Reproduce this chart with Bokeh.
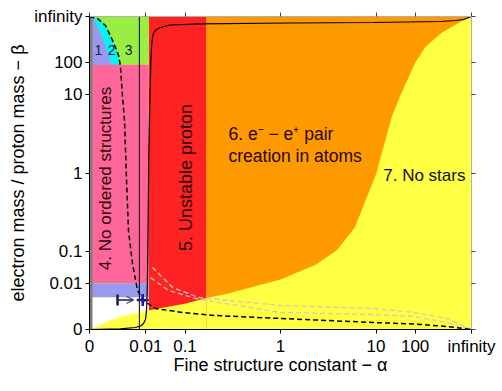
import numpy as np
from bokeh.plotting import figure
from bokeh.models import Range1d, FixedTicker, LinearAxis, Arrow, TeeHead, OpenHead
from bokeh.core.properties import value
from bokeh.embed import file_html
from bokeh.resources import INLINE

INF = np.inf

# ---------------- data (alpha = fine structure constant, beta = m_e/m_p) ----------------
tick_values = [0, 0.01, 0.1, 1, 10, 100, INF]
tick_labels = ["0", "0.01", "0.1", "1", "10", "100", "infinity"]

alpha_gray = 1e-40          # thin grey strip at alpha ~ 0
alpha_red_lo = 0.013        # 5. unstable proton
alpha_red_hi = 0.2
beta_white_top = 0.001
beta_blue_top = 0.01
beta_pink_top = 80
alpha_vline = 0.005
alpha_obs = 1 / 137.036
beta_obs = 1 / 1836.15
arrow_alpha = [5.5e-5, 2.3e-3]

# 7. No stars boundary
nostars_alpha = [0, 1e-4, 1e-3, 0.01, 0.0316, 0.1, 0.2, 0.316, 1, 2, 3.16, 5, 10, 20, 31.6,
                 100, 316, 1e3, 1e4, 1e6, 1e10, INF]
nostars_beta = [0, 1.6e-8, 1.9e-7, 4.4e-6, 2.6e-5, 1.7e-4, 8.7e-4, 1.9e-3, 0.015, 0.049, 0.105,
                0.245, 0.97, 4.3, 9.3, 100, 1.4e3, 1.1e4, 1.1e6, 2.3e9, 2e16, INF]

# solid black curve
solid_alpha = [0, 1.4e-4, 3.0e-3, 5.8e-3, 7.9e-3, 9.6e-3, 0.0105, 0.0110, 0.0115, 0.0120, 0.01253,
               0.0131, 0.0143, 0.0155, 0.0167, 0.0187, 0.0233, 0.0303, 0.053, 0.168, 1.21, 9.1,
               6.9e3, 3.5e7, 1.6e15, INF]
solid_beta = [0, 1e-143, 2e-50, 3e-29, 2.5e-17, 1.2e-10, 1.6e-6, 4.6e-4, 0.0133, 0.104, 0.52,
              1.7, 7.7, 130, 5.5e3, 6.3e5, 4.2e7, 1e9, 5e11, 4e13, 2e15, 4e16,
              8e19, 8e24, 1.6e33, INF]

# dashed black curve
dashed_alpha = [0, 6e-16, 2.8e-8, 1e-5, 7.8e-5, 1.4e-4, 2.6e-4, 4.2e-4, 6.6e-4, 9.8e-4, 1.95e-3,
                4.0e-3, 0.0073, 0.022, 0.091, 0.256, 1, 9.1, 87, 1e5, INF]
dashed_beta = [INF, 5e49, 1.1e11, 5.5e3, 265, 75, 8.9, 3.8, 0.84, 0.22, 0.052,
               3.8e-3, 5.4e-4, 2.1e-5, 1.6e-6, 8.5e-8, 1e-9, 6e-15, 8e-19, 6e-34, 0]

# light dashed curves
lightA_alpha = [0.0175, 0.0594, 0.159, 1, 9.1, 87, 1e5, INF]
lightA_beta = [0.0405, 5.9e-3, 9.9e-4, 8.5e-5, 2.1e-5, 1.6e-6, 9.5e-10, 0]
lightB_alpha = [0.015, 0.0483, 0.144, 1, 9.1, 87, 1e5, INF]
lightB_beta = [0.018, 3.8e-3, 7.8e-4, 1.6e-6, 2.5e-7, 2.4e-8, 6e-15, 0]

# region 1 edge
region1_alpha = [0, 1e-28, 1e-11, 2.8e-8, 5.8e-7, 3.5e-6, 0]
region1_beta = [INF, 8e36, 1.5e6, 2.2e3, 265, 80, 80]


# ---------------- axis mapping: 0..infinity -> 0..1 ----------------
def sc(v):
    v = np.asarray(v, dtype=float)
    with np.errstate(divide="ignore"):
        return 0.5 + np.arctan(np.log10(v)) / np.pi


def s1(v):
    return float(sc(v))


YELLOW = "#FFFF44"
ORANGE = "#FF9900"
RED = "#FF2222"
PINK = "#FF6699"
LAV = "#9999EE"
CYAN = "#00F5F5"
GREEN = "#99EE44"
GRAY = "#7F7F7F"
FONT = "Liberation Sans"

p = figure(width=502, height=391, x_range=Range1d(0, 1), y_range=Range1d(0, 1),
           output_backend="svg", toolbar_location=None,
           min_border_left=89, min_border_right=31, min_border_top=16, min_border_bottom=62,
           background_fill_color=YELLOW, border_fill_color="white", outline_line_color=None)
p.xgrid.visible = False
p.ygrid.visible = False

# orange region above the no-stars boundary (alpha >= 0.2)
na = np.array(nostars_alpha); nb = np.array(nostars_beta)
m = na >= alpha_red_hi
p.patch(list(sc(na[m])) + [s1(alpha_red_hi)], list(sc(nb[m])) + [1.0],
        fill_color=ORANGE, line_color=None)
# red
p.quad(left=[s1(alpha_red_lo)], right=[s1(alpha_red_hi)], bottom=[0.0], top=[1.0],
       fill_color=RED, line_color=None)
# left column regions
p.quad(left=[0.0], right=[s1(alpha_red_lo)], bottom=[s1(beta_pink_top)], top=[1.0],
       fill_color=GREEN, line_color=None)
da = np.array(dashed_alpha); db = np.array(dashed_beta)
mc = db >= 75
p.patch(list(sc(da[mc])) + [0.0], list(sc(db[mc])) + [s1(75)], fill_color=CYAN, line_color=None)
p.patch(sc(region1_alpha), sc(region1_beta), fill_color=LAV, line_color=None)
p.quad(left=[0.0], right=[s1(alpha_red_lo)], bottom=[s1(beta_blue_top)], top=[s1(beta_pink_top)],
       fill_color=PINK, line_color=None)
p.quad(left=[0.0], right=[s1(alpha_red_lo)], bottom=[s1(beta_white_top)], top=[s1(beta_blue_top)],
       fill_color=LAV, line_color=None)
p.quad(left=[0.0], right=[s1(alpha_red_lo)], bottom=[0.0], top=[s1(beta_white_top)],
       fill_color="white", line_color=None)
# yellow (no stars) lower-left part
ml = na <= alpha_red_hi
p.patch(list(sc(na[ml])) + [s1(alpha_red_hi)], list(sc(nb[ml])) + [0.0],
        fill_color=YELLOW, line_color=None)
# grey strip
p.quad(left=[0.0], right=[s1(alpha_gray)], bottom=[0.0], top=[1.0], fill_color=GRAY, line_color=None)

# curves
p.line(sc(lightA_alpha), sc(lightA_beta), line_color="#d8c8b8", line_width=1.3, line_dash="5 3")
p.line(sc(lightB_alpha), sc(lightB_beta), line_color="#d8c8b8", line_width=1.3, line_dash="5 3")
p.line(sc(dashed_alpha), sc(dashed_beta), line_color="black", line_width=1.5, line_dash="5 3")
p.line(sc(solid_alpha), sc(solid_beta), line_color="black", line_width=1.2)
p.line([s1(alpha_vline)] * 2, [0.0, 1.0], line_color="black", line_width=1)

# observed values
p.add_layout(Arrow(start=TeeHead(size=11, line_width=2.5, line_color="#1a1a5a"),
                   end=OpenHead(size=7, line_width=1.2, line_color="#555577"),
                   x_start=s1(arrow_alpha[0]), y_start=s1(beta_obs),
                   x_end=s1(arrow_alpha[1]), y_end=s1(beta_obs),
                   line_width=1.5, line_color="#1a1a5a"))
p.scatter([s1(alpha_obs)], [s1(beta_obs)], marker="cross", size=12, line_width=2.5,
          line_color="#1a1a9a")

# labels
tc = "#2a0505"
p.text(x=list(sc([3e-14, 3.5e-6, 1e-3])), y=list(sc([800, 800, 800])), text=["1", "2", "3"],
       text_font=value(FONT), text_font_size=value("14px"), text_color="#1a1a40",
       text_align="center", text_baseline="middle")
p.text(x=[s1(2.8e-8)], y=[s1(0.88)], text=["4. No ordered structures"], angle=np.pi / 2,
       text_font=value(FONT), text_font_size=value("17px"), text_color=tc,
       text_align="center", text_baseline="middle")
p.text(x=[s1(0.102)], y=[s1(0.9)], text=["5. Unstable proton"], angle=np.pi / 2,
       text_font=value(FONT), text_font_size=value("18px"), text_color=tc,
       text_align="center", text_baseline="middle")
p.text(x=[s1(0.35), s1(0.35)], y=[s1(2.6), s1(1.5)],
       text=["6. e\u207b \u2212 e\u207a pair", "creation in atoms"],
       text_font=value(FONT), text_font_size=value("17.5px"), text_color=tc,
       text_align="left", text_baseline="middle")
p.text(x=[s1(13.4)], y=[s1(0.94)], text=["7. No stars"],
       text_font=value(FONT), text_font_size=value("17px"), text_color="#111111",
       text_align="left", text_baseline="middle")

# axes
ticks = [s1(t) for t in tick_values]
overrides = {t: lab for t, lab in zip(ticks, tick_labels)}
for ax in (p.xaxis[0], p.yaxis[0]):
    ax.ticker = FixedTicker(ticks=ticks)
    ax.major_label_overrides = overrides
    ax.minor_tick_line_color = None
    ax.major_tick_in = 0
    ax.major_tick_out = 4
    ax.major_label_standoff = 3
    ax.major_label_text_font = FONT
    ax.major_label_text_font_size = "17px"
    ax.major_label_text_color = "black"
    ax.axis_line_color = "black"
    ax.major_tick_line_color = "black"
    ax.axis_label_text_font = FONT
    ax.axis_label_text_font_size = "18px"
    ax.axis_label_text_font_style = "normal"
    ax.axis_label_text_color = "black"
p.xaxis[0].axis_label = "Fine structure constant \u2212 \u03b1"
p.yaxis[0].axis_label = "electron mass / proton mass \u2212 \u03b2"
p.xaxis[0].axis_label_standoff = -4
p.yaxis[0].axis_label_standoff = 3

for loc in ("above", "right"):
    ax = LinearAxis(ticker=FixedTicker(ticks=ticks), major_label_text_color=None,
                    axis_line_color="#b0b0b0", major_tick_line_color="#444444",
                    major_tick_in=0, major_tick_out=4, minor_tick_line_color=None,
                    major_label_standoff=0)
    p.add_layout(ax, loc)

open("out.html", "w").write(file_html(p, INLINE))
